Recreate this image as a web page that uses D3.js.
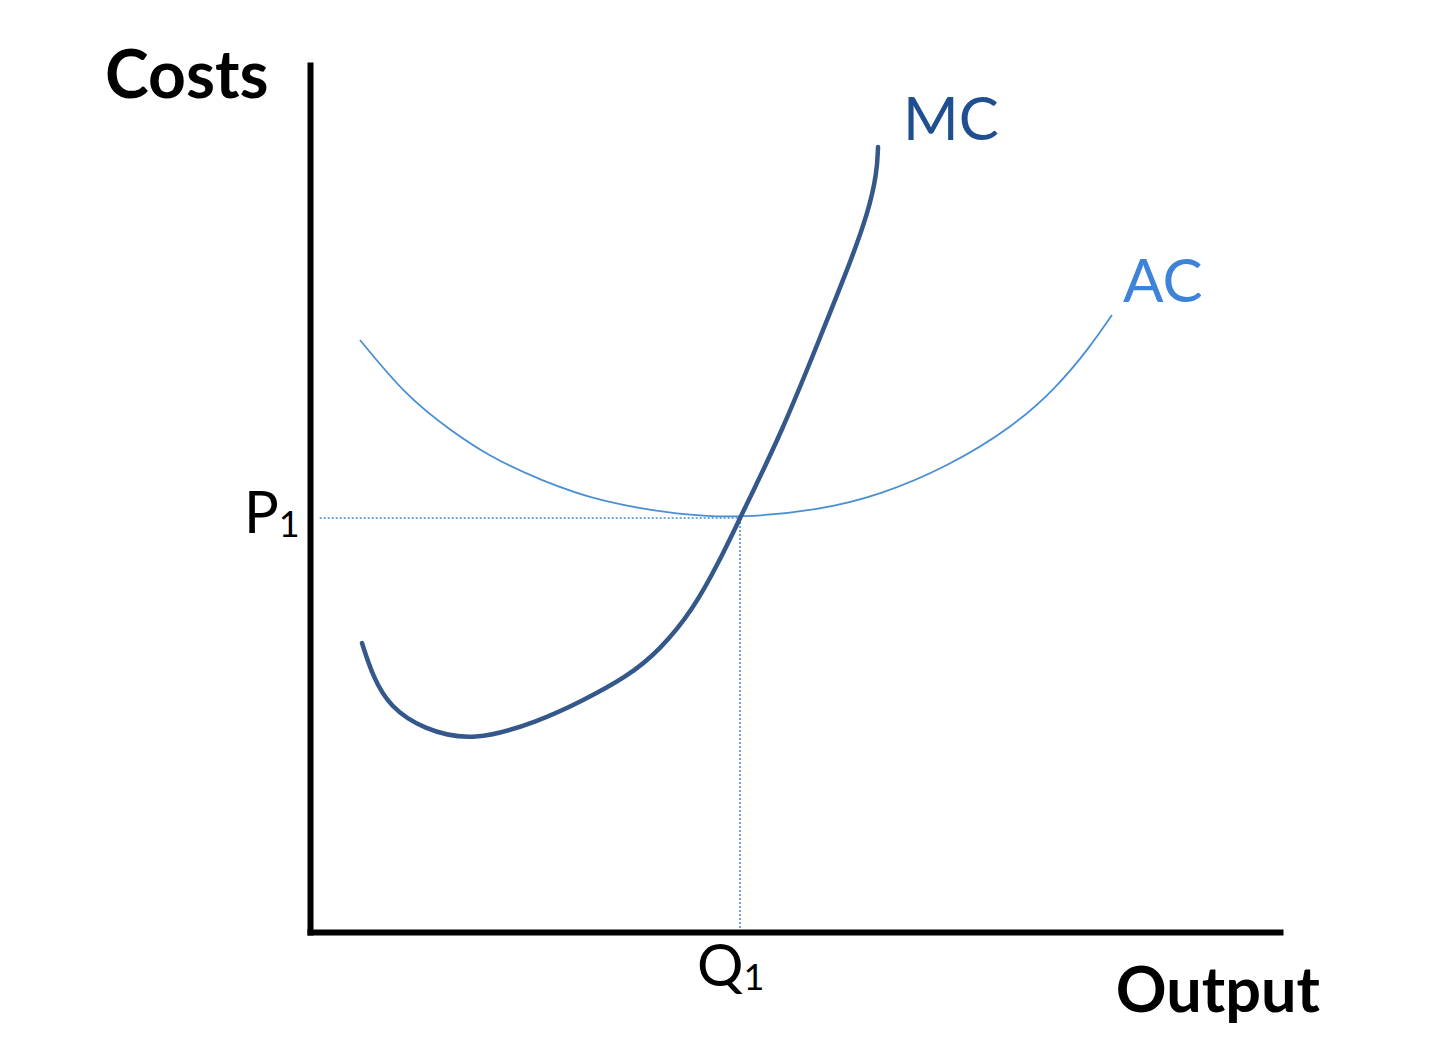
<!DOCTYPE html>
<html>
<head>
<meta charset="utf-8">
<script src="https://cdn.jsdelivr.net/npm/d3@7"></script>
<style>
  body { margin: 0; background: #fff; }
  text { font-family: Lato, "Open Sans", sans-serif; }
</style>
</head>
<body>
<svg id="chart" width="1440" height="1048"></svg>
<script>
// marginal cost curve (output, cost)
const mcOutput = [5.36, 6.49, 8.25, 11.65, 16.80, 23.71, 27.84, 32.68, 36.08, 39.48, 42.27, 44.33, 48.76, 52.89, 55.67, 57.53, 58.45, 58.56];
const mcCost   = [33.33, 29.41, 25.95, 23.40, 21.90, 24.35, 26.53, 29.41, 32.53, 37.14, 42.91, 47.75, 57.90, 69.43, 77.16, 82.93, 87.54, 90.54];

// average cost curve
const acOutput = [5.15, 10.00, 14.43, 18.56, 23.71, 29.90, 38.14, 44.33, 52.58, 58.76, 65.67, 72.47, 77.01, 80.41, 82.68];
const acCost   = [68.28, 61.71, 57.90, 54.79, 52.13, 49.60, 48.10, 47.75, 48.67, 50.40, 53.63, 58.25, 62.86, 67.47, 71.17];

// equilibrium
const q1 = 44.33;
const p1 = 47.75;

const svg = d3.select("#chart");

const x = d3.scaleLinear().domain([0, 100]).range([310, 1280]);
const y = d3.scaleLinear().domain([0, 100]).range([932, 65]);

const line = d3.line()
  .x(d => x(d[0]))
  .y(d => y(d[1]))
  .curve(d3.curveBasis);

// dotted guide lines
svg.append("line")
  .attr("x1", x(1)).attr("x2", x(q1))
  .attr("y1", y(p1)).attr("y2", y(p1))
  .attr("stroke", "#4a8fd4").attr("stroke-width", 1.6)
  .attr("stroke-dasharray", "2,2");
svg.append("line")
  .attr("x1", x(q1)).attr("x2", x(q1))
  .attr("y1", y(p1)).attr("y2", y(0))
  .attr("stroke", "#4a8fd4").attr("stroke-width", 1.6)
  .attr("stroke-dasharray", "2,2");

// AC
svg.append("path")
  .datum(d3.zip(acOutput, acCost))
  .attr("d", line)
  .attr("fill", "none")
  .attr("stroke", "#4a8fd4")
  .attr("stroke-width", 1.8);

// MC
svg.append("path")
  .datum(d3.zip(mcOutput, mcCost))
  .attr("d", line)
  .attr("fill", "none")
  .attr("stroke", "#35588a")
  .attr("stroke-width", 4.5)
  .attr("stroke-linecap", "round");

// axes, no ticks
const xAxis = svg.append("g")
  .attr("transform", `translate(0,${y(0)})`)
  .call(d3.axisBottom(x).tickValues([]).tickSizeOuter(0));
const yAxis = svg.append("g")
  .attr("transform", `translate(${x(0)},0)`)
  .call(d3.axisLeft(y).tickValues([]).tickSizeOuter(0));
[xAxis, yAxis].forEach(a => a.select(".domain")
  .attr("stroke", "#000").attr("stroke-width", 6).attr("stroke-linecap", "square"));

// labels
svg.append("text")
  .attr("x", 105).attr("y", 98)
  .attr("font-size", 66).attr("font-weight", "bold")
  .attr("fill", "#000").text("Costs");

svg.append("text")
  .attr("x", 1320).attr("y", 1012)
  .attr("text-anchor", "end")
  .attr("font-size", 63).attr("font-weight", "bold")
  .attr("fill", "#000").text("Output");

svg.append("text")
  .attr("x", 903).attr("y", 140)
  .attr("font-size", 60).attr("fill", "#1f4f90").text("MC");

svg.append("text")
  .attr("x", 1123).attr("y", 302)
  .attr("font-size", 60).attr("fill", "#3d83d8").text("AC");

const pLabel = svg.append("text")
  .attr("x", 244).attr("y", y(p1) + 15)
  .attr("font-size", 58).attr("fill", "#000");
pLabel.append("tspan").text("P");
pLabel.append("tspan").attr("font-size", 36).attr("dy", 4).text("1");

const qLabel = svg.append("text")
  .attr("x", 697).attr("y", 986)
  .attr("font-size", 58).attr("fill", "#000");
qLabel.append("tspan").text("Q");
qLabel.append("tspan").attr("font-size", 36).attr("dy", 4).text("1");
</script>
</body>
</html>
